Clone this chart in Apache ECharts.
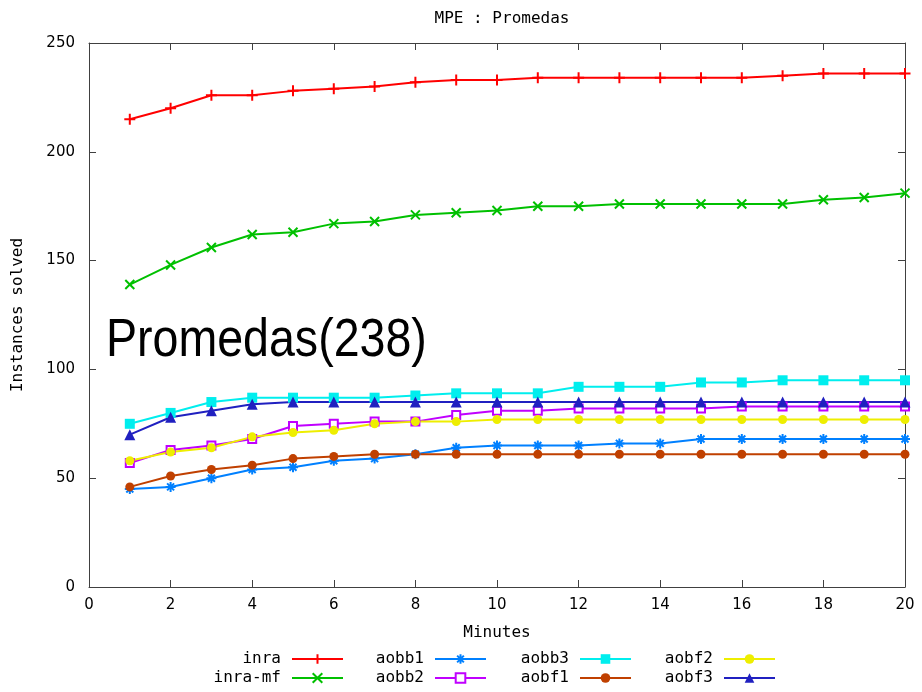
<!DOCTYPE html>
<html>
<head>
<meta charset="utf-8">
<script src="https://cdn.jsdelivr.net/npm/echarts@6/dist/echarts.min.js"></script>
<style>
  html, body { margin: 0; padding: 0; background: #fff; }
  #chart { width: 922px; height: 692px; }
</style>
</head>
<body>
<div id="chart"></div>
<script>
// Minutes of run time (x axis)
const minutes = [1, 2, 3, 4, 5, 6, 7, 8, 9, 10, 11, 12, 13, 14, 15, 16, 17, 18, 19, 20];

// Instances solved per solver
const inra   = [215, 220, 226, 226, 228, 229, 230, 232, 233, 233, 234, 234, 234, 234, 234, 234, 235, 236, 236, 236];
const inraMf = [139, 148, 156, 162, 163, 167, 168, 171, 172, 173, 175, 175, 176, 176, 176, 176, 176, 178, 179, 181];
const aobb1  = [45, 46, 50, 54, 55, 58, 59, 61, 64, 65, 65, 65, 66, 66, 68, 68, 68, 68, 68, 68];
const aobb2  = [57, 63, 65, 68, 74, 75, 76, 76, 79, 81, 81, 82, 82, 82, 82, 83, 83, 83, 83, 83];
const aobb3  = [75, 80, 85, 87, 87, 87, 87, 88, 89, 89, 89, 92, 92, 92, 94, 94, 95, 95, 95, 95];
const aobf1  = [46, 51, 54, 56, 59, 60, 61, 61, 61, 61, 61, 61, 61, 61, 61, 61, 61, 61, 61, 61];
const aobf2  = [58, 62, 64, 69, 71, 72, 75, 76, 76, 77, 77, 77, 77, 77, 77, 77, 77, 77, 77, 77];
const aobf3  = [70, 78, 81, 84, 85, 85, 85, 85, 85, 85, 85, 85, 85, 85, 85, 85, 85, 85, 85, 85];

// Axis ticks
const xTicks = { min: 0, max: 20, interval: 2 };
const yTicks = { min: 0, max: 250, interval: 50 };

const MONO = '"DejaVu Sans Mono", monospace';
const SANS = '"DejaVu Sans", sans-serif';
const AXIS_COLOR = '#404040';

const PLUS = 'path://M0,5L10,5M5,0L5,10';
const CROSS = 'path://M0,0L10,10M0,10L10,0';
const STAR = 'path://M0,5L10,5M5,0L5,10M1.5,1.5L8.5,8.5M1.5,8.5L8.5,1.5';

function pairs(values) {
  return minutes.map((m, i) => [m, values[i]]);
}

function line(name, values, color, symbol, size, stroked) {
  return {
    name: name,
    type: 'line',
    data: pairs(values),
    symbol: symbol,
    symbolSize: size,
    showSymbol: true,
    animation: false,
    lineStyle: { color: color, width: 2 },
    itemStyle: stroked
      ? { color: color, borderColor: color, borderWidth: 2 }
      : { color: color, borderColor: color, borderWidth: symbol.indexOf('empty') === 0 ? 2 : 0 },
    z: 2
  };
}

const series = [
  line('inra', inra, '#ff0000', PLUS, 11, true),
  line('inra-mf', inraMf, '#00c000', CROSS, 9, true),
  line('aobb1', aobb1, '#0080ff', STAR, 10, true),
  line('aobb2', aobb2, '#c000ff', 'emptyRect', 8, false),
  line('aobb3', aobb3, '#00eeee', 'rect', 10, false),
  line('aobf1', aobf1, '#c04000', 'circle', 9, false),
  line('aobf2', aobf2, '#eeee00', 'circle', 9, false),
  line('aobf3', aobf3, '#2020c0', 'triangle', 11, false)
];

// Legend laid out in four columns of two, names right-aligned before the sample
function legendColumn(names, left) {
  return {
    data: names,
    orient: 'vertical',
    align: 'right',
    left: left,
    top: 651,
    height: 80,
    padding: 0,
    itemWidth: 51,
    itemHeight: 12,
    itemGap: 3,
    selectedMode: false,
    formatter: '{t|{name}}',
    textStyle: {
      fontFamily: MONO,
      fontSize: 16,
      color: '#000',
      rich: {
        t: { width: 74, align: 'right', fontFamily: MONO, fontSize: 16, lineHeight: 14, padding: [0, 6, 0, 0] }
      }
    }
  };
}

const baseAxisLine = { show: true, onZero: false, lineStyle: { color: AXIS_COLOR, width: 1 } };
const tick = { show: true, inside: true, length: 7, lineStyle: { color: AXIS_COLOR } };

const option = {
  backgroundColor: '#fff',
  animation: false,
  title: {
    text: 'MPE : Promedas',
    left: 497,
    textAlign: 'center',
    top: 6,
    textStyle: { fontFamily: MONO, fontSize: 16, fontWeight: 'normal', color: '#000' }
  },
  grid: { left: 89, right: 17, top: 43, bottom: 105, containLabel: false },
  legend: [
    legendColumn(['inra', 'inra-mf'], 207),
    legendColumn(['aobb1', 'aobb2'], 350),
    legendColumn(['aobb3', 'aobf1'], 495),
    legendColumn(['aobf2', 'aobf3'], 639)
  ],
  xAxis: [
    {
      type: 'value', position: 'bottom',
      min: xTicks.min, max: xTicks.max, interval: xTicks.interval,
      name: 'Minutes', nameLocation: 'middle', nameGap: 38,
      nameTextStyle: { fontFamily: MONO, fontSize: 16, color: '#000' },
      axisLine: baseAxisLine, axisTick: tick,
      axisLabel: { fontFamily: SANS, fontSize: 15, color: '#000', margin: 11 },
      splitLine: { show: false }
    },
    {
      type: 'value', position: 'top',
      min: xTicks.min, max: xTicks.max, interval: xTicks.interval,
      axisLine: baseAxisLine, axisTick: tick,
      axisLabel: { show: false }, splitLine: { show: false }
    }
  ],
  yAxis: [
    {
      type: 'value', position: 'left',
      min: yTicks.min, max: yTicks.max, interval: yTicks.interval,
      name: 'Instances solved', nameLocation: 'middle', nameGap: 63, nameRotate: 90,
      nameTextStyle: { fontFamily: MONO, fontSize: 16, color: '#000' },
      axisLine: baseAxisLine, axisTick: tick,
      axisLabel: { fontFamily: SANS, fontSize: 15, color: '#000', margin: 14, padding: [3, 0, 0, 0] },
      splitLine: { show: false }
    },
    {
      type: 'value', position: 'right',
      min: yTicks.min, max: yTicks.max, interval: yTicks.interval,
      axisLine: baseAxisLine, axisTick: tick,
      axisLabel: { show: false }, splitLine: { show: false }
    }
  ],
  graphic: [
    {
      type: 'text',
      x: 106,
      y: 341,
      scaleX: 0.862,
      z: 10,
      style: {
        text: 'Promedas(238)',
        x: 0, y: 0,
        fill: '#000',
        font: '54px "Liberation Sans", Arial, sans-serif',
        textAlign: 'left',
        textVerticalAlign: 'middle'
      }
    }
  ],
  series: series
};

const chart = echarts.init(document.getElementById('chart'), null, { renderer: 'canvas' });
chart.setOption(option);
</script>
</body>
</html>
